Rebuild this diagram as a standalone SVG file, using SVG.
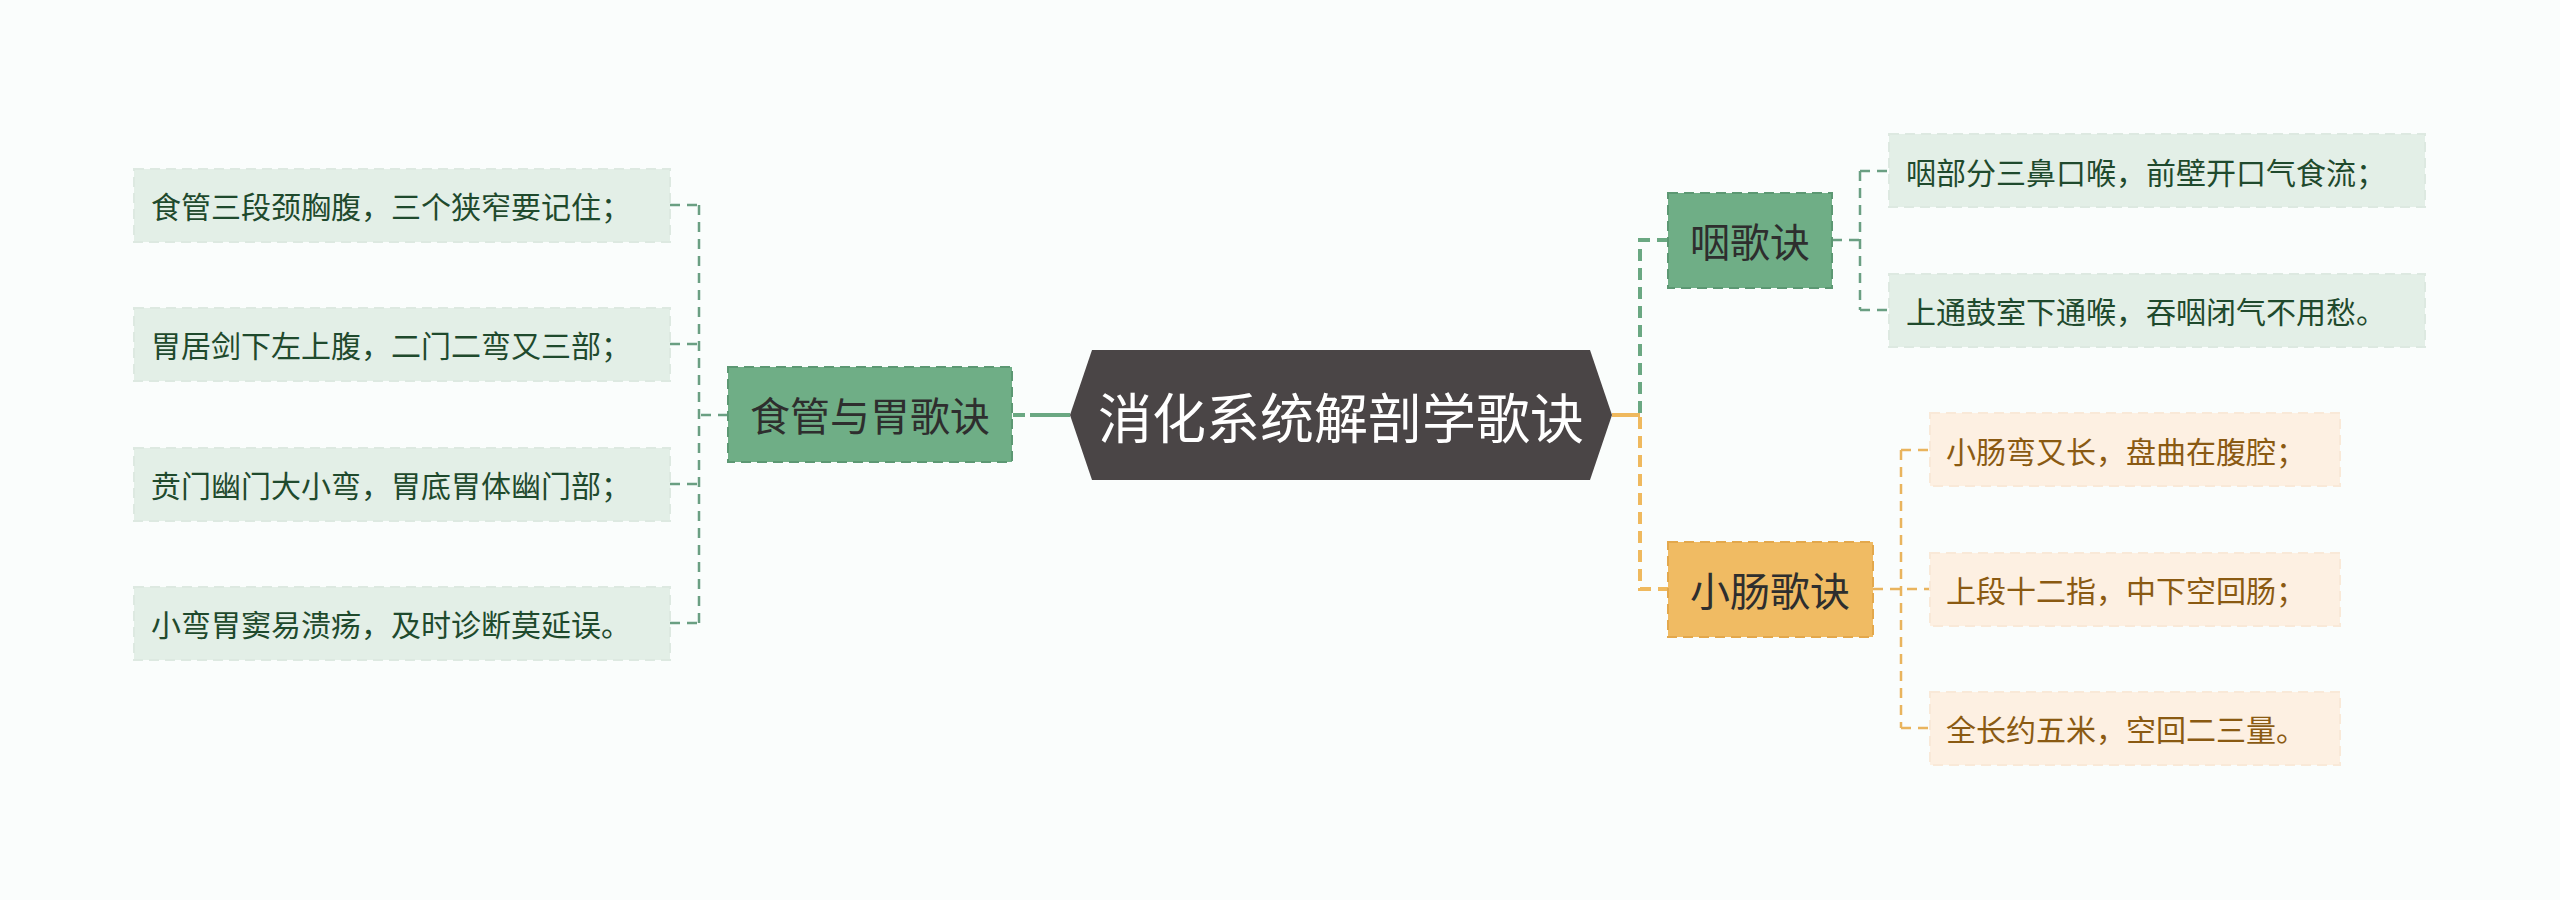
<svg xmlns="http://www.w3.org/2000/svg" width="2560" height="900" viewBox="0 0 2560 900">
<style>
text{font-family:"Noto Sans CJK SC","Noto Sans",sans-serif;dominant-baseline:central}
.root{fill:#4a4546}
.rt{fill:#ffffff;font-size:54px;text-anchor:middle}
.gn{fill:#6fae86;stroke:#5c9873;stroke-width:2;stroke-dasharray:10 6}
.on{fill:#f0bb63;stroke:#e3a84c;stroke-width:2;stroke-dasharray:10 6}
.nt{fill:#2e2e2e;font-size:40px;text-anchor:middle}
.gl{fill:#e3efe7;stroke:#dde9e1;stroke-width:2;stroke-dasharray:10 6}
.ol{fill:#fdf0e2;stroke:#f9e9d8;stroke-width:2;stroke-dasharray:10 6}
.glt{fill:#1f4a2d;font-size:30px}
.olt{fill:#8a5a12;font-size:30px}
.cg{fill:none;stroke:#6a9f82;stroke-width:2.5;stroke-dasharray:10 7}
.co{fill:none;stroke:#e9b45d;stroke-width:2.5;stroke-dasharray:10 7}
.cgm{fill:none;stroke:#6aa882;stroke-width:4;stroke-dasharray:12 7}
.com{fill:none;stroke:#efb95e;stroke-width:4;stroke-dasharray:12 7}
</style>
<rect width="2560" height="900" fill="#fafdfc"/>
<g id="connectors">
  <path d="M1070 415 H1030" fill="none" stroke="#6aa882" stroke-width="4"/>
  <path d="M1025 415 H1013" fill="none" stroke="#6aa882" stroke-width="4"/>
  <path class="cg" d="M728 415 H699 M699 205 V623 M670 205 H699 M670 344 H699 M670 484 H699 M670 623 H699"/>
  <path d="M1612 415 H1640" fill="none" stroke="#efb95e" stroke-width="4"/>
  <path class="cgm" d="M1640 413 V240 H1668"/>
  <path class="com" d="M1640 417 V589 H1668"/>
  <path class="cg" d="M1832 240 H1860 M1860 171 V310 M1860 171 H1889 M1860 310 H1889"/>
  <path class="co" d="M1873 589 H1930 M1901 450 V728 M1901 450 H1930 M1901 728 H1930"/>
</g>
<g id="root">
  <polygon class="root" points="1070,415 1092,350 1590,350 1612,415 1590,480 1092,480"/>
  <text class="rt" x="1341" y="415">消化系统解剖学歌诀</text>
</g>
<g id="n-shiguan">
  <rect class="gn" x="728" y="367" width="284" height="95"/>
  <text class="nt" x="870" y="414">食管与胃歌诀</text>
</g>
<g id="n-yan">
  <rect class="gn" x="1668" y="193" width="164" height="95"/>
  <text class="nt" x="1750" y="240">咽歌诀</text>
</g>
<g id="n-xiaochang">
  <rect class="on" x="1668" y="542" width="205" height="95"/>
  <text class="nt" x="1770" y="589">小肠歌诀</text>
</g>
<g id="l1">
  <rect class="gl" x="134" y="169" width="536" height="73"/>
  <text class="glt" x="151" y="205">食管三段颈胸腹，三个狭窄要记住；</text>
</g>
<g id="l2">
  <rect class="gl" x="134" y="308" width="536" height="73"/>
  <text class="glt" x="151" y="344">胃居剑下左上腹，二门二弯又三部；</text>
</g>
<g id="l3">
  <rect class="gl" x="134" y="448" width="536" height="73"/>
  <text class="glt" x="151" y="484">贲门幽门大小弯，胃底胃体幽门部；</text>
</g>
<g id="l4">
  <rect class="gl" x="134" y="587" width="536" height="73"/>
  <text class="glt" x="151" y="623">小弯胃窦易溃疡，及时诊断莫延误。</text>
</g>
<g id="r1">
  <rect class="gl" x="1889" y="134" width="536" height="73"/>
  <text class="glt" x="1906" y="171">咽部分三鼻口喉，前壁开口气食流；</text>
</g>
<g id="r2">
  <rect class="gl" x="1889" y="274" width="536" height="73"/>
  <text class="glt" x="1906" y="310">上通鼓室下通喉，吞咽闭气不用愁。</text>
</g>
<g id="o1">
  <rect class="ol" x="1930" y="413" width="410" height="73"/>
  <text class="olt" x="1946" y="450">小肠弯又长，盘曲在腹腔；</text>
</g>
<g id="o2">
  <rect class="ol" x="1930" y="553" width="410" height="73"/>
  <text class="olt" x="1946" y="589">上段十二指，中下空回肠；</text>
</g>
<g id="o3">
  <rect class="ol" x="1930" y="692" width="410" height="73"/>
  <text class="olt" x="1946" y="728">全长约五米，空回二三量。</text>
</g>
</svg>
